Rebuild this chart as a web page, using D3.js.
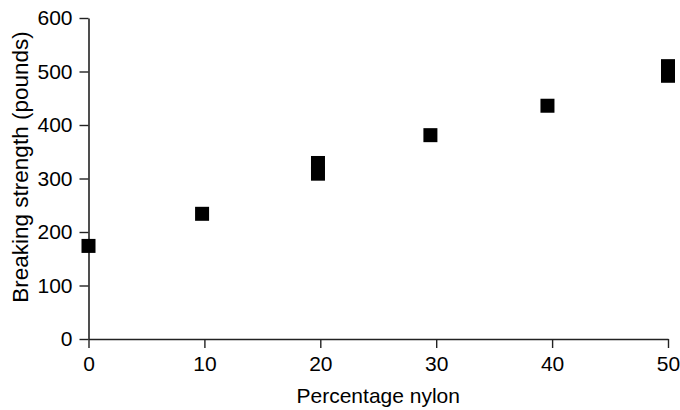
<!DOCTYPE html>
<html>
<head>
<meta charset="utf-8">
<script src="https://cdn.jsdelivr.net/npm/d3@7"></script>
<style>
  html, body { margin: 0; padding: 0; background: #fff; }
  svg { display: block; }
  text { font-family: "Liberation Sans", Arial, Helvetica, sans-serif; fill: #000; }
</style>
</head>
<body>
<svg id="chart" width="680" height="410"></svg>
<script>
// Data
const nylonPercent = [0, 9.8, 19.8, 19.8, 29.5, 39.6, 50, 50];
const breakingStrength = [174, 234, 329, 309, 381, 436, 510, 492];
const xTicks = [0, 10, 20, 30, 40, 50];
const yTicks = [0, 100, 200, 300, 400, 500, 600];
const xTitle = "Percentage nylon";
const yTitle = "Breaking strength (pounds)";

const svg = d3.select("#chart");
const x = d3.scaleLinear().domain([0, 50]).range([88.5, 668]);
const y = d3.scaleLinear().domain([0, 600]).range([339, 18]);

const fontSize = 21;
const axisColor = "#222";

// X axis
const gx = svg.append("g")
  .attr("transform", `translate(0,${y(0)})`)
  .call(d3.axisBottom(x).tickValues(xTicks).tickSize(9).tickSizeOuter(0).tickPadding(8));
// Y axis
const gy = svg.append("g")
  .attr("transform", `translate(${x(0)},0)`)
  .call(d3.axisLeft(y).tickValues(yTicks).tickSize(9).tickSizeOuter(0).tickPadding(7));

[gx, gy].forEach(g => {
  g.select(".domain").attr("stroke", axisColor).attr("stroke-width", 1.6);
  g.selectAll(".tick line").attr("stroke", axisColor).attr("stroke-width", 1.4);
  g.selectAll(".tick text")
    .attr("fill", "#000")
    .style("font-size", fontSize + "px")
    .style("font-family", '"Liberation Sans", Arial, Helvetica, sans-serif');
});

// Points (squares)
const sz = 14;
const pts = nylonPercent.map((v, i) => ({ x: v, y: breakingStrength[i] }));
svg.append("g").selectAll("rect")
  .data(pts)
  .join("rect")
  .attr("x", d => x(d.x) - sz / 2)
  .attr("y", d => y(d.y) - sz / 2)
  .attr("width", sz)
  .attr("height", sz)
  .attr("fill", "#000");

// Axis titles
svg.append("text")
  .attr("x", (x(0) + x(50)) / 2)
  .attr("y", 403)
  .attr("text-anchor", "middle")
  .style("font-size", fontSize + "px")
  .text(xTitle);

svg.append("text")
  .attr("transform", `translate(28,167) rotate(-90)`)
  .attr("text-anchor", "middle")
  .style("font-size", "22.5px")
  .text(yTitle);
</script>
</body>
</html>
